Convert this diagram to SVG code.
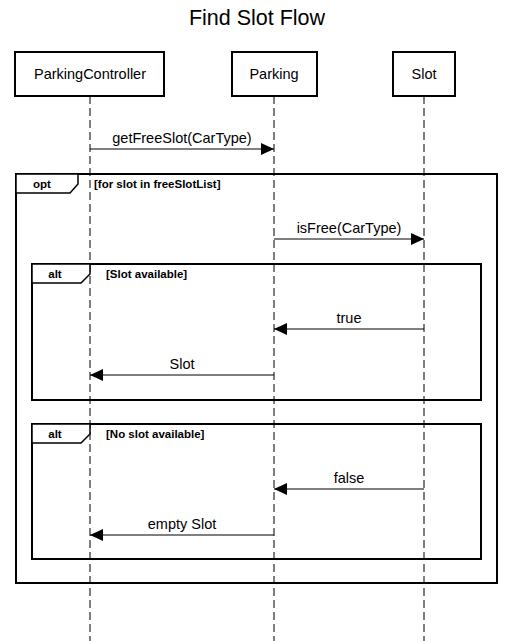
<svg xmlns="http://www.w3.org/2000/svg" width="513" height="641" viewBox="0 0 513 641">
<style>
.box{fill:#fff;stroke:#000;stroke-width:2}
.life{stroke:#000;stroke-width:1;stroke-dasharray:8 4;fill:none}
.msg{stroke:#000;stroke-width:1;fill:none}
.frame{fill:none;stroke:#000;stroke-width:2}
.tab{fill:#fff;stroke:#000;stroke-width:1.5}
.t{font-family:"Liberation Sans",Arial,sans-serif;font-size:14.5px;fill:#000}
.b{font-family:"Liberation Sans",Arial,sans-serif;font-size:11.5px;font-weight:bold;fill:#000}
</style>
<defs>
<marker id="ah" markerWidth="14" markerHeight="12" refX="13" refY="6" orient="auto" markerUnits="userSpaceOnUse">
<path d="M0,0 L13,6 L0,12 Z" fill="#000"/>
</marker>
</defs>
<rect width="513" height="641" fill="#fff"/>
<text x="257" y="25" text-anchor="middle" font-family="Liberation Sans, Arial, sans-serif" font-size="21.5" fill="#000">Find Slot Flow</text>
<g id="lifelines">
<line class="life" x1="90" y1="96" x2="90" y2="641"/>
<line class="life" x1="274" y1="96" x2="274" y2="641"/>
<line class="life" x1="424" y1="96" x2="424" y2="641"/>
</g>
<g id="ParkingController">
<rect class="box" x="15" y="52" width="149" height="44"/>
<text class="t" x="90" y="79" text-anchor="middle">ParkingController</text>
</g>
<g id="Parking">
<rect class="box" x="232" y="52" width="85" height="44"/>
<text class="t" x="274" y="79" text-anchor="middle">Parking</text>
</g>
<g id="Slot">
<rect class="box" x="393" y="52" width="62" height="44"/>
<text class="t" x="424" y="79" text-anchor="middle">Slot</text>
</g>
<g id="opt-frame">
<rect class="frame" x="16" y="174" width="481" height="409"/>
<path class="tab" d="M16,174 H78 V184 L70,193 H16 Z"/>
<text class="b" x="42" y="188" text-anchor="middle">opt</text>
<text class="b" x="94" y="188">[for slot in freeSlotList]</text>
</g>
<g id="alt-frame-1">
<rect class="frame" x="32" y="264" width="449" height="136"/>
<path class="tab" d="M32,264 H90 V274 L81,283 H32 Z"/>
<text class="b" x="55" y="278" text-anchor="middle">alt</text>
<text class="b" x="106" y="278">[Slot available]</text>
</g>
<g id="alt-frame-2">
<rect class="frame" x="32" y="424" width="449" height="135"/>
<path class="tab" d="M32,424 H90 V434 L81,443 H32 Z"/>
<text class="b" x="55" y="438" text-anchor="middle">alt</text>
<text class="b" x="106" y="438">[No slot available]</text>
</g>
<g id="connectors">
<line class="msg" x1="90" y1="149" x2="274" y2="149" marker-end="url(#ah)"/>
<text class="t" x="182" y="143" text-anchor="middle">getFreeSlot(CarType)</text>
<line class="msg" x1="274" y1="239" x2="424" y2="239" marker-end="url(#ah)"/>
<text class="t" x="349" y="233" text-anchor="middle">isFree(CarType)</text>
<line class="msg" x1="424" y1="329" x2="274" y2="329" marker-end="url(#ah)"/>
<text class="t" x="349" y="323" text-anchor="middle">true</text>
<line class="msg" x1="274" y1="375" x2="90" y2="375" marker-end="url(#ah)"/>
<text class="t" x="182" y="369" text-anchor="middle">Slot</text>
<line class="msg" x1="424" y1="489" x2="274" y2="489" marker-end="url(#ah)"/>
<text class="t" x="349" y="483" text-anchor="middle">false</text>
<line class="msg" x1="274" y1="535" x2="90" y2="535" marker-end="url(#ah)"/>
<text class="t" x="182" y="529" text-anchor="middle">empty Slot</text>
</g>
</svg>
